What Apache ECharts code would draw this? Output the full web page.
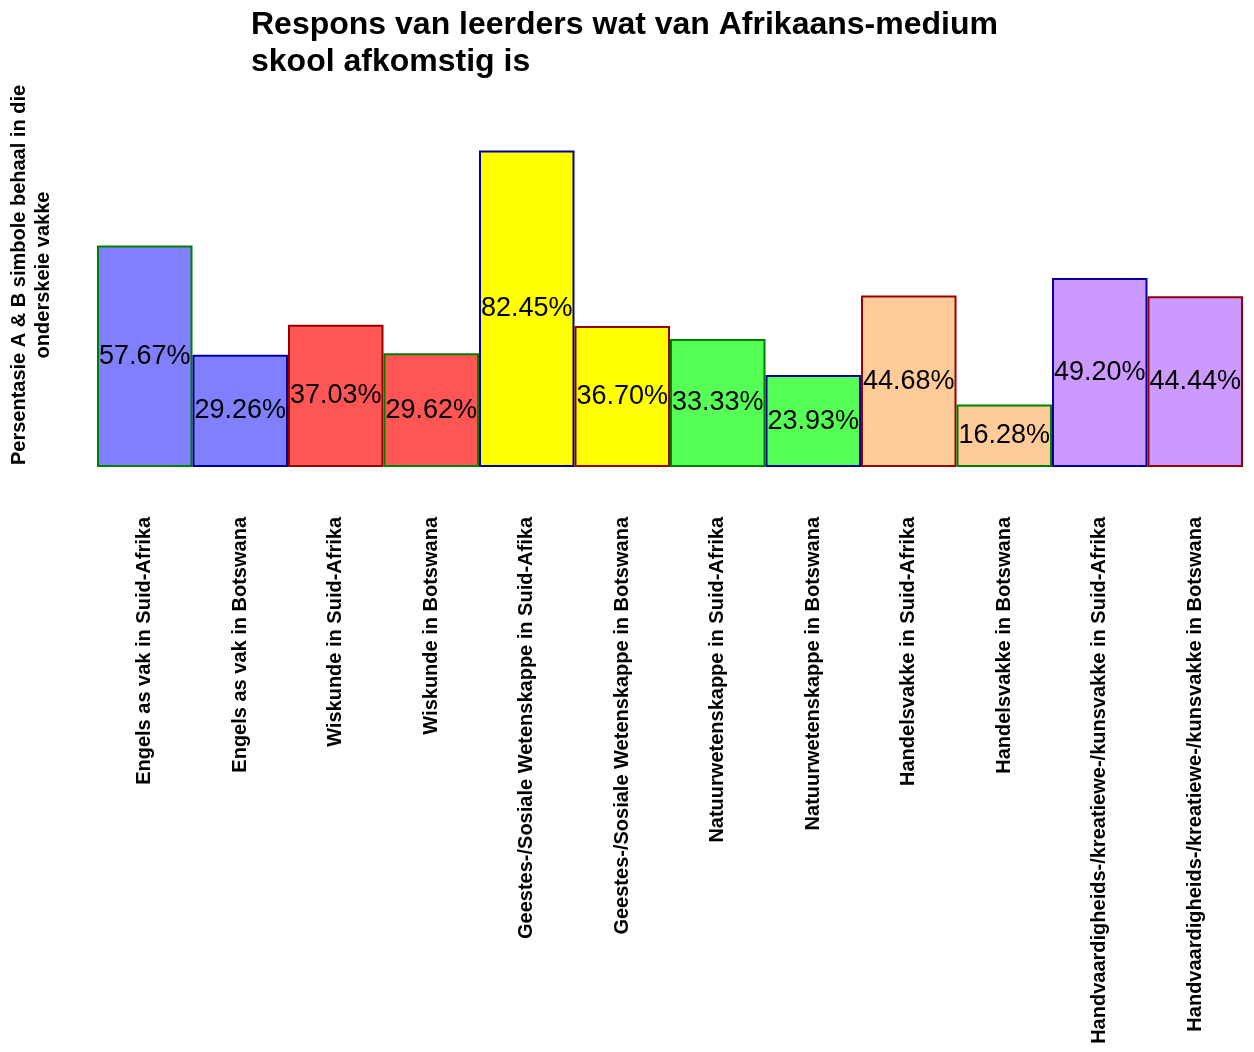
<!DOCTYPE html>
<html>
<head>
<meta charset="utf-8">
<style>html,body{margin:0;padding:0;background:#fff}#c{width:1254px;height:1052px}</style>
<script src="https://cdn.jsdelivr.net/npm/echarts@6/dist/echarts.min.js"></script>
</head>
<body>
<div id="c"></div>
<script>
var categories = [
  "Engels as vak in Suid-Afrika",
  "Engels as vak in Botswana",
  "Wiskunde in Suid-Afrika",
  "Wiskunde in Botswana",
  "Geestes-/Sosiale Wetenskappe in Suid-Afika",
  "Geestes-/Sosiale Wetenskappe in Botswana",
  "Natuurwetenskappe in Suid-Afrika",
  "Natuurwetenskappe in Botswana",
  "Handelsvakke in Suid-Afrika",
  "Handelsvakke in Botswana",
  "Handvaardigheids-/kreatiewe-/kunsvakke in Suid-Afrika",
  "Handvaardigheids-/kreatiewe-/kunsvakke in Botswana"
];
var values = [57.67, 29.26, 37.03, 29.62, 82.45, 36.70, 33.33, 23.93, 44.68, 16.28, 49.20, 44.44];
var fillColors = ["#8080FF","#8080FF","#FF5555","#FF5555","#FFFF00","#FFFF00","#55FF55","#55FF55","#FFCC99","#FFCC99","#CC99FF","#CC99FF"];
var borderColors = ["#008000","#000099","#990000"];

var chart = echarts.init(document.getElementById('c'));
var font = "'Liberation Sans', Arial, sans-serif";
chart.setOption({
  animation: false,
  backgroundColor: '#ffffff',
  title: {
    text: 'Respons van leerders wat van Afrikaans-medium\nskool afkomstig is',
    left: 246, top: 2,
    textStyle: {fontFamily: font, fontWeight: 'bold', fontSize: 32, lineHeight: 37, color: '#000'}
  },
  grid: {left: 97, right: 11, top: 83, bottom: 585, containLabel: false, outerBoundsMode: 'none'},
  xAxis: {
    type: 'category',
    data: categories,
    axisLine: {show: false},
    axisTick: {show: false},
    axisLabel: {interval: 0, rotate: 90, margin: 50, fontFamily: font, fontWeight: 'bold', fontSize: 20, color: '#000'}
  },
  yAxis: {
    type: 'value', min: 0, max: 100,
    axisLine: {show: false}, axisTick: {show: false}, axisLabel: {show: false}, splitLine: {show: false},
    name: 'Persentasie A & B simbole behaal in die\nonderskeie vakke',
    nameLocation: 'middle', nameRotate: 90, nameGap: 42,
    nameTextStyle: {fontFamily: font, fontWeight: 'bold', fontSize: 20, lineHeight: 24, color: '#000', align: 'center'}
  },
  series: [{
    type: 'bar',
    barWidth: '100%',
    barGap: 0,
    data: values.map(function (v, i) {
      return {value: v, itemStyle: {color: fillColors[i], borderColor: borderColors[i % 3], borderWidth: 2}};
    }),
    label: {
      show: true, position: 'inside', color: '#000',
      fontFamily: font, fontSize: 27,
      formatter: function (p) { return p.value.toFixed(2) + '%'; }
    }
  }]
});
</script>
</body>
</html>
